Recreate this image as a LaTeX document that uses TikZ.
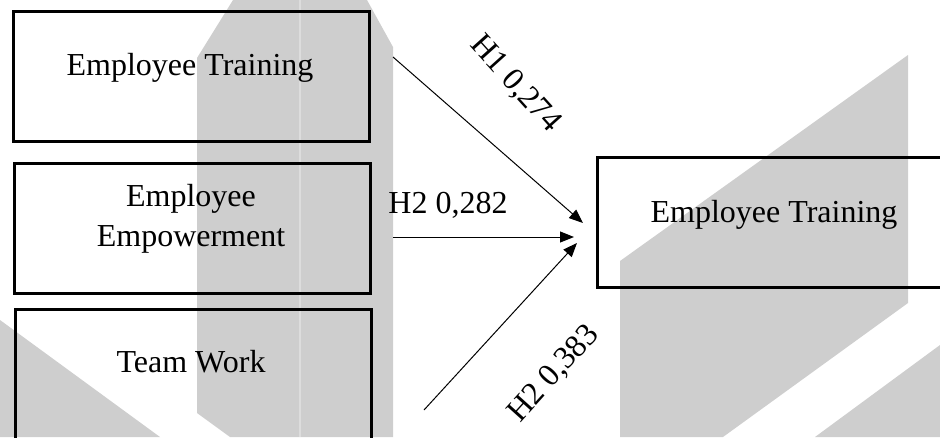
\documentclass[tikz,border=0pt]{standalone}
\usepackage{fontspec}
\setmainfont{Liberation Serif}
\usetikzlibrary{arrows.meta}
\definecolor{logogray}{RGB}{206,206,206}

\begin{document}
\begin{tikzpicture}[x=1pt,y=-1pt,
  logo/.style={fill=logogray},
  box/.style={draw,line width=2.8pt,minimum width=356pt,minimum height=130pt,inner sep=0pt,anchor=north west},
  txt/.style={font=\fontsize{32}{40}\selectfont,inner sep=0pt,anchor=base},
  link/.style={line width=1pt,-{Triangle[length=14pt,width=11pt]}}]
\useasboundingbox (0,0) rectangle (940,437);
\clip (0,0) rectangle (940,437);
% background shapes
\fill[logo] (233,0) -- (367,0) -- (393,47) -- (393,437) -- (230,437) -- (197,413) -- (197,58) -- cycle;
\draw[color=logogray!70!white,line width=1.5pt] (300,0) -- (300,437);
\fill[logo] (0,320) -- (160,437) -- (0,437) -- cycle;
\fill[logo] (908,55) -- (908,303) -- (723,437) -- (620,437) -- (620,261) -- cycle;
\fill[logo] (815,437) -- (940,345) -- (940,437) -- cycle;
% boxes
\node[box] (train) at (12,10) {};
\node[box] (empow) at (13,162) {};
\node[box] (team) at (14,308) {};
\node[box] (result) at (596,156) {};
\node[txt] (train-t) at (190,75) {Employee Training};
\node[txt] (empow-t1) at (191,206) {Employee};
\node[txt] (empow-t2) at (191,246) {Empowerment};
\node[txt] (team-t) at (191,372) {Team Work};
\node[txt] (result-t) at (774,222) {Employee Training};
% paths
\coordinate (s1) at (393,57);
\coordinate (s2) at (393,237);
\coordinate (s3) at (424,410);
\coordinate (e1) at (583,223);
\coordinate (e2) at (574,237);
\coordinate (e3) at (577,243);
\draw[link] (s1) -- (e1);
\draw[link] (s2) -- (e2);
\draw[link] (s3) -- (e3);
\node[txt,anchor=center,rotate=-48] (h1) at (515,84) {H1 0,274};
\node[txt] (h2) at (448,213) {H2 0,282};
\node[txt,anchor=center,rotate=48] (h3) at (554,374) {H2 0,383};
\end{tikzpicture}
\end{document}
